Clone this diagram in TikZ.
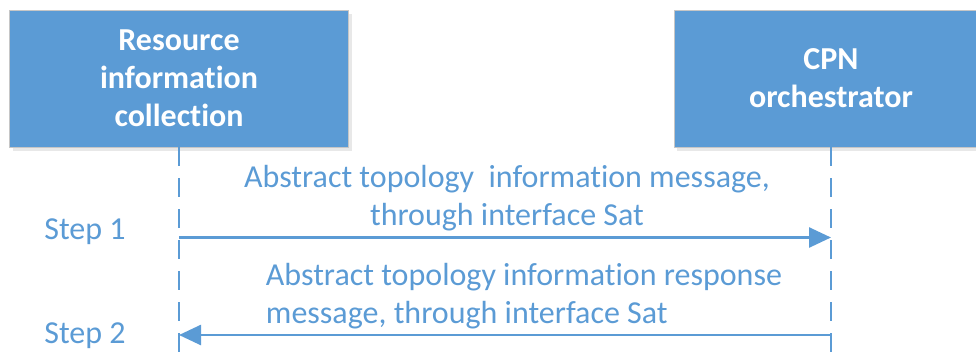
\documentclass[tikz,border=0pt]{standalone}
\usepackage{fontspec}
\setmainfont{Carlito}[Ligatures=NoCommon]
\usetikzlibrary{arrows.meta, positioning, shadows}
\definecolor{cpnblue}{HTML}{5B9BD5}
\tikzset{
    x=1pt, y=-1pt,
    actor/.style={rectangle, draw=gray!45, line width=0.8pt, fill=cpnblue,
        text=white, align=center, minimum height=137pt,
        font=\fontsize{32}{38}\selectfont\bfseries,
        drop shadow={opacity=0.18, shadow xshift=3pt, shadow yshift=-4pt}},
    lifeline/.style={draw=cpnblue, line width=2.6pt, dash pattern=on 19pt off 12pt},
    msg/.style={draw=cpnblue, line width=2.6pt, -{Triangle[length=22pt, width=20pt]}},
    msgtext/.style={text=cpnblue, align=center, font=\fontsize{32}{38}\selectfont},
}

\begin{document}
\begin{tikzpicture}
    \useasboundingbox (0,0) rectangle (976,353);

    \node[actor, minimum width=339pt] (res) at (179,78.5) {Resource\\information\\collection};
    \node[actor, minimum width=314pt] (orch) at (831,78.5) {CPN\\orchestrator};

    % lifelines
    \coordinate (resEnd) at (179,353);
    \coordinate (orchEnd) at (831,353);
    \draw[lifeline] (res.south) -- (resEnd);
    \draw[lifeline] (orch.south) -- (orchEnd);

    % messages
    \coordinate (res1) at (179,237.5);
    \coordinate (orch1) at (831,237.5);
    \coordinate (res2) at (179,335);
    \coordinate (orch2) at (831,335);

    \draw[msg] (res1) -- node[msgtext, above=4pt, inner sep=1pt, xshift=2pt]
        {Abstract topology~ information message,\\through interface Sat} (orch1);
    \draw[msg] (orch2) -- node[msgtext, align=left, above=4pt, inner sep=1pt, xshift=19pt]
        {Abstract topology information response\\message, through interface Sat} (res2);

    \node[msgtext, anchor=base] (step1) at (85,239) {Step 1};
    \node[msgtext, anchor=base] (step2) at (85,343) {Step 2};
\end{tikzpicture}
\end{document}
